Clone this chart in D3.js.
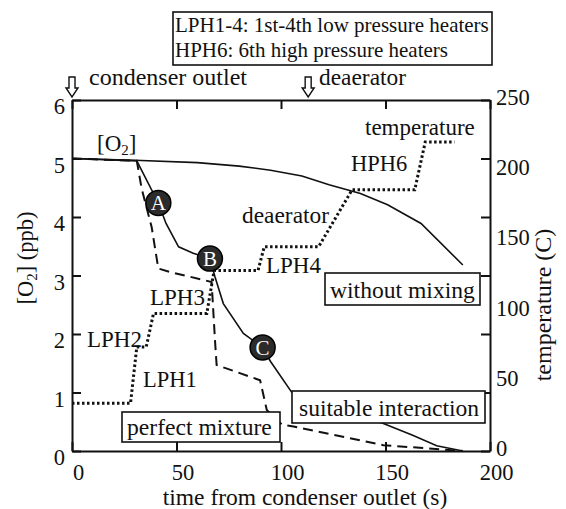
<!DOCTYPE html>
<html>
<head>
<meta charset="utf-8">
<script src="https://cdn.jsdelivr.net/npm/d3@7"></script>
<style>
  body { margin: 0; background: #fff; }
</style>
</head>
<body>
<div id="chart"></div>
<script>
// axis values
const timeTicks = [0, 50, 100, 150, 200];
const o2Ticks = [0, 1, 2, 3, 4, 5, 6];
const tempTicks = [0, 50, 100, 150, 200, 250];

// [time (s), O2 (ppb)]
const withoutMixing = [[0, 5.0], [30, 4.97], [60, 4.93], [80, 4.87], [95, 4.80], [110, 4.70],
  [123, 4.55], [138, 4.40], [151, 4.21], [167, 3.89], [187, 3.18]];
const suitableInteraction = [[0, 5.0], [31, 4.96], [41.3, 4.24], [45, 3.89], [51, 3.49], [58, 3.38],
  [66, 3.29], [68.4, 2.98], [72.4, 2.52], [82, 2.01], [91.2, 1.77], [95, 1.53], [105, 1.01],
  [127, 0.74], [149, 0.47], [163, 0.27], [174.5, 0.09], [187, 0.0]];
const perfectMixture = [[0, 5.0], [31, 4.96], [33.3, 4.49], [38.1, 3.83], [41.3, 3.12], [46.9, 3.06],
  [66.8, 2.89], [68.4, 1.9], [69.2, 1.47], [90, 1.21], [93.2, 0.70], [100.5, 0.45], [106, 0.42],
  [149, 0.10], [187, 0.0]];
// [time (s), temperature (C)]
const temperature = [[0, 34], [28, 34], [31, 74], [35.5, 74], [39, 98], [64.5, 98], [68, 128.5],
  [89, 128.5], [92, 145.5], [118, 145.5], [134, 186], [164, 186], [169, 220], [183, 220]];
// marked points on the suitable interaction curve
const markers = [{ label: "A", t: 41.3, v: 4.24 }, { label: "B", t: 66, v: 3.29 }, { label: "C", t: 91.2, v: 1.77 }];
const arrowTimes = [0, 113];

const width = 566, height = 509;
const margin = { top: 100, right: 76, bottom: 58, left: 72 };
const serif = "'Liberation Serif', 'Times New Roman', serif";

const svg = d3.select("#chart").append("svg")
  .attr("width", width).attr("height", height)
  .style("font-family", serif);

const x = d3.scaleLinear().domain([0, 200]).range([margin.left, width - margin.right]);
const yO = d3.scaleLinear().domain([0, 6]).range([height - margin.bottom, margin.top]);
const yT = d3.scaleLinear().domain([0, 250]).range([height - margin.bottom, margin.top]);

const ink = "#111";

// curves
const lineO = d3.line().x(d => x(d[0])).y(d => yO(d[1]));
const lineT = d3.line().x(d => x(d[0])).y(d => yT(d[1]));

svg.append("path").datum(withoutMixing).attr("d", lineO)
  .attr("fill", "none").attr("stroke", ink).attr("stroke-width", 1.6);
svg.append("path").datum(perfectMixture).attr("d", lineO)
  .attr("fill", "none").attr("stroke", ink).attr("stroke-width", 2).attr("stroke-dasharray", "10,6");
svg.append("path").datum(suitableInteraction).attr("d", lineO)
  .attr("fill", "none").attr("stroke", ink).attr("stroke-width", 1.6);
svg.append("path").datum(temperature).attr("d", lineT)
  .attr("fill", "none").attr("stroke", ink).attr("stroke-width", 3).attr("stroke-dasharray", "2.5,2.5");

// axes (ticks point inward)
function styleAxis(g) {
  g.attr("font-family", null).attr("font-size", null);
  g.selectAll("path, line").attr("stroke", ink).attr("stroke-width", 2);
  g.selectAll("text").attr("font-size", 22.5).attr("fill", ink);
}

svg.append("g")
  .attr("transform", `translate(0,${yO(0)})`)
  .call(d3.axisBottom(x).tickValues(timeTicks).tickSizeInner(-9).tickSizeOuter(0).tickPadding(13))
  .call(styleAxis)
  .call(g => g.selectAll("text").attr("dx", 6));

svg.append("g")
  .attr("transform", `translate(0,${yO(6)})`)
  .call(d3.axisTop(x).tickValues(timeTicks).tickSizeInner(-9).tickSizeOuter(0).tickFormat(""))
  .call(styleAxis);

svg.append("g")
  .attr("transform", `translate(${x(0)},0)`)
  .call(d3.axisLeft(yO).tickValues(o2Ticks).tickFormat(d3.format("d"))
    .tickSizeInner(-9).tickSizeOuter(0).tickPadding(7))
  .call(styleAxis)
  .call(g => g.selectAll("text").attr("dy", "0.62em"));

svg.append("g")
  .attr("transform", `translate(${x(200)},0)`)
  .call(d3.axisRight(yO).tickValues(o2Ticks).tickSizeInner(-9).tickSizeOuter(0).tickFormat(""))
  .call(styleAxis);

svg.append("g")
  .attr("transform", `translate(${x(200)},0)`)
  .call(d3.axisRight(yT).tickValues(tempTicks).tickSize(0).tickPadding(6))
  .call(styleAxis)
  .call(g => g.select(".domain").remove())
  .call(g => g.selectAll("text").attr("dy", "0.2em"));

// axis titles
svg.append("text")
  .attr("x", 305).attr("y", 505).attr("text-anchor", "middle").attr("font-size", 23.5).attr("fill", ink)
  .text("time from condenser outlet (s)");

const yl = svg.append("text")
  .attr("transform", "translate(33,258) rotate(-90)")
  .attr("text-anchor", "middle").attr("font-size", 22.5).attr("fill", ink);
yl.append("tspan").text("[O");
yl.append("tspan").attr("font-size", 15).attr("dy", 4).text("2");
yl.append("tspan").attr("dy", -4).text("] (ppb)");

svg.append("text")
  .attr("transform", "translate(551,305) rotate(-90)")
  .attr("text-anchor", "middle").attr("font-size", 24).attr("fill", ink)
  .text("temperature (C)");

// in-plot labels
const o2lab = svg.append("text").attr("x", 97).attr("y", 151).attr("font-size", 23).attr("fill", ink);
o2lab.append("tspan").text("[O");
o2lab.append("tspan").attr("font-size", 15).attr("dy", 4).text("2");
o2lab.append("tspan").attr("dy", -4).text("]");

const plainLabels = [
  { text: "temperature", x: 365, y: 135, size: 23 },
  { text: "HPH6", x: 351, y: 171, size: 22.5 },
  { text: "deaerator", x: 242, y: 223, size: 23.4 },
  { text: "LPH4", x: 266, y: 273, size: 23 },
  { text: "LPH3", x: 150, y: 305, size: 23 },
  { text: "LPH2", x: 87, y: 347, size: 23 },
  { text: "LPH1", x: 143, y: 387, size: 22.5 }
];
svg.selectAll(".plab").data(plainLabels).join("text")
  .attr("class", "plab")
  .attr("x", d => d.x).attr("y", d => d.y).attr("font-size", d => d.size).attr("fill", ink)
  .text(d => d.text);

// boxed labels
const boxLabels = [
  { lines: ["without mixing"], x: 325, y: 273, w: 155, h: 32, pad: 5, size: 23.6 },
  { lines: ["suitable interaction"], x: 292, y: 391, w: 193, h: 32, pad: 7, size: 23.6 },
  { lines: ["perfect mixture"], x: 122, y: 412, w: 158, h: 30, pad: 5, size: 23.6 },
  { lines: ["LPH1-4: 1st-4th low pressure heaters", "HPH6: 6th high pressure heaters"],
    x: 173, y: 12, w: 319, h: 53, pad: 2, size: 21 }
];
const boxes = svg.selectAll(".box").data(boxLabels).join("g").attr("class", "box");
boxes.append("rect")
  .attr("x", d => d.x).attr("y", d => d.y).attr("width", d => d.w).attr("height", d => d.h)
  .attr("fill", "#fff").attr("stroke", ink).attr("stroke-width", 1.6);
boxes.each(function (d) {
  const g = d3.select(this);
  const multi = d.lines.length > 1;
  d.lines.forEach((s, i) => {
    g.append("text")
      .attr("x", d.x + d.pad)
      .attr("y", multi ? d.y + 20 + i * 25 : d.y + d.h - 7.5)
      .attr("font-size", d.size).attr("fill", ink)
      .text(s);
  });
});

// A, B, C markers
const mk = svg.selectAll(".mk").data(markers).join("g").attr("class", "mk")
  .attr("transform", d => `translate(${x(d.t)},${yO(d.v)})`);
mk.append("circle").attr("r", 12.5).attr("fill", "#2b2b2b").attr("stroke", "#000").attr("stroke-width", 1.5);
mk.append("text").attr("text-anchor", "middle").attr("dy", "0.35em")
  .attr("font-size", 21).attr("fill", "#fff").text(d => d.label);

// hollow arrows above the plot
const arrowTop = 77, arrowBottom = 97;
svg.selectAll(".arrow").data(arrowTimes).join("path")
  .attr("class", "arrow")
  .attr("d", t => {
    const cx = x(t), mid = arrowBottom - 9;
    return `M${cx - 3},${arrowTop}L${cx + 3},${arrowTop}L${cx + 3},${mid}L${cx + 6},${mid}` +
      `L${cx},${arrowBottom}L${cx - 6},${mid}L${cx - 3},${mid}Z`;
  })
  .attr("fill", "#fff").attr("stroke", ink).attr("stroke-width", 1.4);

svg.append("text").attr("x", 89).attr("y", 85).attr("font-size", 24).attr("fill", ink).text("condenser outlet");
svg.append("text").attr("x", 319).attr("y", 85).attr("font-size", 23.4).attr("fill", ink).text("deaerator");
</script>
</body>
</html>
